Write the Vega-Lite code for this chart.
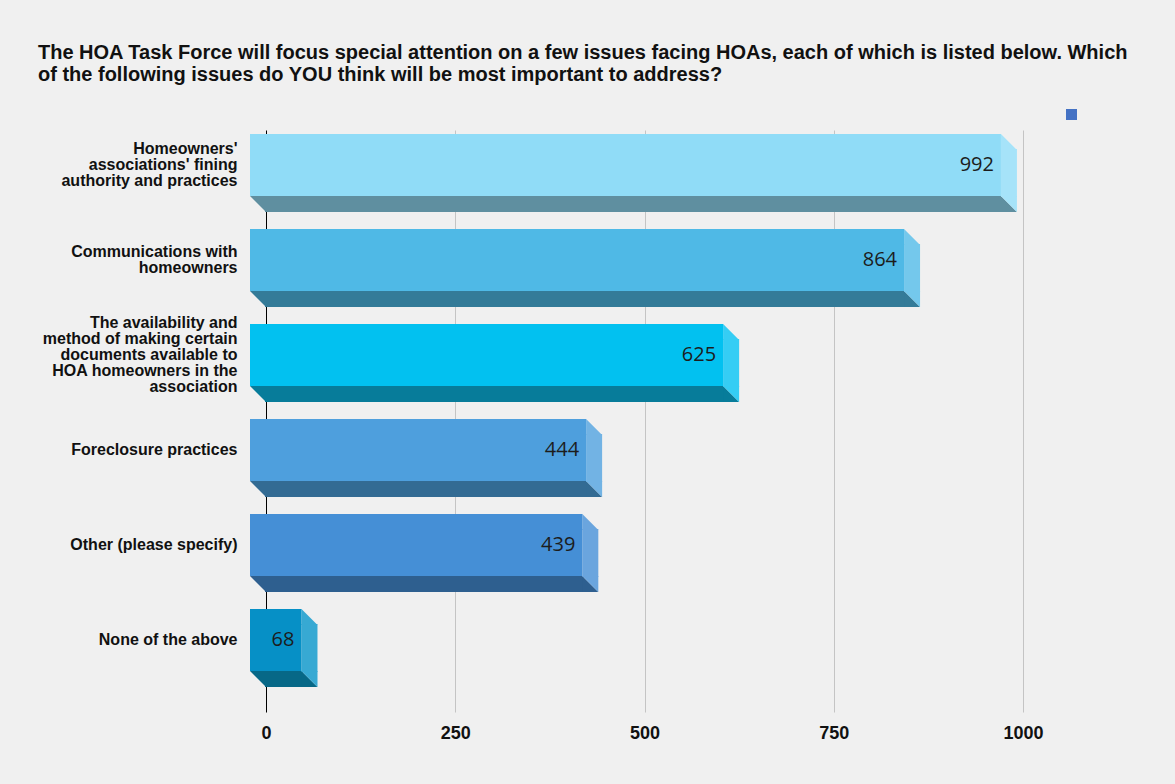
{
  "$schema": "https://vega.github.io/schema/vega-lite/v6.json",
  "description": "HOA Task Force survey: most important issues, drawn as 3D-style horizontal bars.",
  "autosize": {"type": "none"},
  "padding": {"left": 266, "top": 130, "right": 152, "bottom": 72},
  "width": 757,
  "height": 582,
  "background": "#f0f0f0",
  "title": {
    "text": [
      "The HOA Task Force will focus special attention on a few issues facing HOAs, each of which is listed below. Which",
      "of the following issues do YOU think will be most important to address?"
    ],
    "anchor": "start",
    "frame": "group",
    "dx": -228,
    "offset": 24,
    "font": "Liberation Sans",
    "fontSize": 20,
    "fontWeight": "bold",
    "lineHeight": 22,
    "color": "#111111"
  },
  "data": {
    "values": [
      {"issue": "Homeowners'\nassociations' fining\nauthority and practices", "count": 992},
      {"issue": "Communications with\nhomeowners", "count": 864},
      {"issue": "The availability and\nmethod of making certain\ndocuments available to\nHOA homeowners in the\nassociation", "count": 625},
      {"issue": "Foreclosure practices", "count": 444},
      {"issue": "Other (please specify)", "count": 439},
      {"issue": "None of the above", "count": 68}
    ]
  },
  "encoding": {
    "y": {
      "field": "issue",
      "type": "nominal",
      "sort": null,
      "scale": {"paddingInner": 0, "paddingOuter": 0.063},
      "axis": {
        "title": null,
        "domain": false,
        "ticks": false,
        "labelExpr": "split(datum.label, '\\n')",
        "labelOffset": {
          "condition": [
            {"test": "length(split(datum.label, '\\n')) == 2", "value": -26.5},
            {"test": "length(split(datum.label, '\\n')) == 3", "value": -34.5},
            {"test": "length(split(datum.label, '\\n')) == 5", "value": -50.5}
          ],
          "value": -18.5
        },
        "labelPadding": 29,
        "labelFont": "Liberation Sans",
        "labelFontSize": 16,
        "labelFontWeight": "bold",
        "labelLineHeight": 16,
        "labelColor": "#111111",
        "labelLimit": 300
      }
    },
    "x": {
      "field": "count",
      "type": "quantitative",
      "scale": {"domain": [0, 1000], "nice": false},
      "axis": {
        "title": null,
        "values": [0, 250, 500, 750, 1000],
        "format": "d",
        "domain": false,
        "ticks": false,
        "grid": true,
        "gridColor": {"condition": {"test": "datum.value === 0", "value": "#000000"}, "value": "#c4c4c4"},
        "gridOpacity": 1,
        "labelFlush": false,
        "labelPadding": 12,
        "labelFont": "Liberation Sans",
        "labelFontSize": 18,
        "labelFontWeight": "bold",
        "labelColor": "#111111"
      }
    }
  },
  "layer": [
    {
      "encoding": {
        "color": {
          "field": "issue",
          "type": "nominal",
          "sort": null,
          "legend": null,
          "scale": {"range": ["#5f8fa0", "#347b98", "#077c9a", "#336b93", "#2e5f8f", "#076887"]}
        }
      },
      "layer": [
        {
          "mark": {"type": "bar", "height": 16, "yOffset": 20.5, "xOffset": -15, "x2Offset": -1, "strokeWidth": 0},
          "encoding": {"x2": {"datum": 0}}
        },
        {
          "mark": {"type": "point", "shape": "M-1,-1L1,-1L1,1Z", "size": 256, "filled": true, "opacity": 1, "strokeWidth": 0, "xOffset": -8, "yOffset": 20.5},
          "encoding": {"x": {"datum": 0, "type": "quantitative"}}
        },
        {
          "mark": {"type": "point", "shape": "M-1,-1L1,1L-1,1Z", "size": 256, "filled": true, "opacity": 1, "strokeWidth": 0, "xOffset": -8, "yOffset": 20.5}
        }
      ]
    },
    {
      "encoding": {
        "color": {
          "field": "issue",
          "type": "nominal",
          "sort": null,
          "legend": null,
          "scale": {"range": ["#a6e3f9", "#74c8ec", "#35cdf4", "#72b3e4", "#6aa5de", "#37a9d3"]}
        }
      },
      "layer": [
        {
          "mark": {"type": "bar", "height": 48, "yOffset": -10.5, "xOffset": 0, "x2Offset": -16, "strokeWidth": 0},
          "encoding": {"x2": {"field": "count"}}
        },
        {
          "mark": {"type": "point", "shape": "M-1,-1L1,1L-1,1Z", "size": 256, "filled": true, "opacity": 1, "strokeWidth": 0, "xOffset": -8, "yOffset": -41.5}
        },
        {
          "mark": {"type": "point", "shape": "M-1,-1L1,-1L1,1Z", "size": 256, "filled": true, "opacity": 1, "strokeWidth": 0, "xOffset": -8, "yOffset": 20.5}
        }
      ]
    },
    {
      "encoding": {
        "color": {
          "field": "issue",
          "type": "nominal",
          "sort": null,
          "legend": null,
          "scale": {"range": ["#90dcf7", "#4fb9e6", "#02c1f0", "#4e9fdd", "#458fd6", "#0690c6"]}
        }
      },
      "layer": [
        {
          "mark": {"type": "bar", "height": 62, "yOffset": -18.5, "xOffset": -16, "x2Offset": -16, "strokeWidth": 0},
          "encoding": {"x2": {"datum": 0}}
        }
      ]
    },
    {
      "mark": {"type": "text", "align": "right", "baseline": "middle", "xOffset": -23, "yOffset": -18.5, "font": "Open Sans", "fontSize": 20, "color": "#1c1c1c"},
      "encoding": {"text": {"field": "count", "type": "quantitative"}}
    },
    {
      "mark": {"type": "point", "shape": "square", "filled": true, "opacity": 0},
      "encoding": {
        "color": {
          "datum": "",
          "scale": {"range": ["#4472c4"]},
          "legend": {
            "orient": "none",
            "legendX": 800,
            "legendY": -21,
            "title": null,
            "symbolType": "square",
            "symbolSize": 121,
            "symbolOpacity": 1,
            "symbolStrokeWidth": 0,
            "labelFontSize": 0,
            "padding": 0
          }
        }
      }
    }
  ],
  "resolve": {"scale": {"color": "independent"}},
  "config": {"view": {"stroke": null}}
}
